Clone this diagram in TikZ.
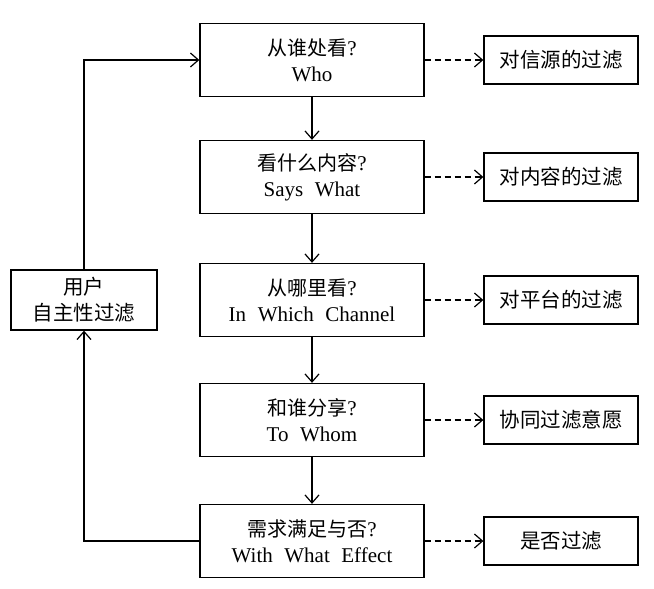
\documentclass[tikz,border=0pt]{standalone}
\usepackage{fontspec}
\setmainfont{Liberation Serif}
\newfontfamily\cjk{Noto Sans CJK SC}
\usetikzlibrary{arrows.meta}
\tikzset{>={Straight Barb[length=8pt,width=14pt]}}
\tikzset{
  stage/.style={draw, line width=1.3pt, minimum width=224pt, minimum height=73pt,
    align=center, font=\fontsize{21}{26}\selectfont,
    execute at begin node={\spaceskip=0.55em\relax}},
  filter/.style={draw, line width=1.3pt, minimum width=154pt, minimum height=48pt,
    font=\cjk\fontsize{20.5}{24}\selectfont},
}

\begin{document}
\begin{tikzpicture}[x=1pt, y=-1pt, line width=1.2pt]

  \newcommand\MidX{312}
  \newcommand\RgtX{561}

  \useasboundingbox (0,0) rectangle (654,589);

  \node[stage] (who) at (\MidX, 60) {{\cjk\fontsize{20}{26}\selectfont 从谁处看}?\\Who};
  \node[stage] (what) at (\MidX, 177) {{\cjk\fontsize{20}{26}\selectfont 看什么内容}?\\Says What};
  \node[stage] (channel) at (\MidX, 300) {{\cjk\fontsize{20}{26}\selectfont 从哪里看}?\\In Which Channel};
  \node[stage] (whom) at (\MidX, 420) {{\cjk\fontsize{20}{26}\selectfont 和谁分享}?\\To Whom};
  \node[stage] (effect) at (\MidX, 541) {{\cjk\fontsize{20}{26}\selectfont 需求满足与否}?\\With What Effect};

  \node[filter] (f1) at (\RgtX, 60) {对信源的过滤};
  \node[filter] (f2) at (\RgtX, 177) {对内容的过滤};
  \node[filter] (f3) at (\RgtX, 300) {对平台的过滤};
  \node[filter] (f4) at (\RgtX, 420) {协同过滤意愿};
  \node[filter] (f5) at (\RgtX, 541) {是否过滤};

  \node[draw, line width=1.3pt, minimum width=146pt, minimum height=60pt, align=center,
    font=\cjk\fontsize{20.5}{26}\selectfont] (user) at (84, 300) {用户\\自主性过滤};

  \draw[->] (who) -- (what); %% who what
  \draw[->] (what) -- (channel); %% what channel
  \draw[->] (channel) -- (whom); %% channel whom
  \draw[->] (whom) -- (effect); %% whom effect

  \draw[->, dash pattern=on 6pt off 4pt] (who) -- (f1);
  \draw[->, dash pattern=on 6pt off 4pt] (what) -- (f2);
  \draw[->, dash pattern=on 6pt off 4pt] (channel) -- (f3);
  \draw[->, dash pattern=on 6pt off 4pt] (whom) -- (f4);
  \draw[->, dash pattern=on 6pt off 4pt] (effect) -- (f5);

  \draw[->] (effect.west) -| (user.south); %% effect user
  \draw[->] (user.north) |- (who.west); %% user who

\end{tikzpicture}
\end{document}
